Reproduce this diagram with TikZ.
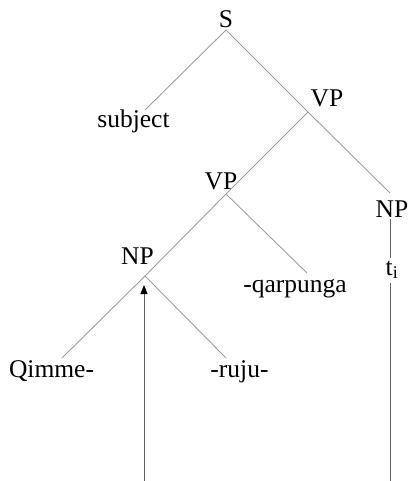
\documentclass[tikz,border=0pt]{standalone}
\usepackage{fontspec}
\setmainfont{Liberation Serif}
\usetikzlibrary{arrows.meta}
\begin{document}
\begin{tikzpicture}[x=1pt,y=-1pt,
  lbl/.style={anchor=base,inner sep=0pt,font=\fontsize{25.5}{28}\selectfont},
  branch/.style={draw=black!38,line width=0.9pt},
  trace/.style={draw=black!62,line width=0.9pt}]
\useasboundingbox (0,0) rectangle (409,481);
% labels
\node[lbl] (S) at (226,28) {S};
\node[lbl] (subj) at (133.5,128) {subject};
\node[lbl] (VPa) at (327,107) {VP};
\node[lbl] (VPb) at (221,189) {VP};
\node[lbl] (NPr) at (392,217) {NP};
\node[lbl] (NPl) at (137.5,264) {NP};
\node[lbl] (qarp) at (295,292) {-qarpunga};
\node[lbl] (ti) at (392,275) {t\textsubscript{i}};
\node[lbl] (qimme) at (51.5,377) {Qimme-};
\node[lbl] (ruju) at (239.5,377) {-ruju-};
% branch points and line ends
\coordinate (Sx) at (226,30);
\coordinate (subjx) at (145,110);
\coordinate (VPax) at (308,112);
\coordinate (VPbx) at (226,194);
\coordinate (NPrx) at (390,193);
\coordinate (NPry) at (390,219);
\coordinate (tix) at (390,258);
\coordinate (tiy) at (390,283);
\coordinate (tiz) at (390,481);
\coordinate (NPlx) at (145,276);
\coordinate (qarpx) at (307,273);
\coordinate (qimmex) at (62,358);
\coordinate (rujux) at (226,358);
\coordinate (arrtail) at (144,481);
\coordinate (arrhead) at (144,285);
% tree
\draw[branch] (subjx) -- (Sx) -- (VPax) -- (NPrx);
\draw[branch] (VPax) -- (VPbx) -- (NPlx);
\draw[branch] (VPbx) -- (qarpx);
\draw[branch] (qimmex) -- (NPlx) -- (rujux);
\draw[trace] (NPry) -- (tix);
\draw[trace] (tiy) -- (tiz);
\draw[trace,-{Triangle[length=9pt,width=7pt,fill=black,color=black]}] (arrtail) -- (arrhead);
\end{tikzpicture}
\end{document}
